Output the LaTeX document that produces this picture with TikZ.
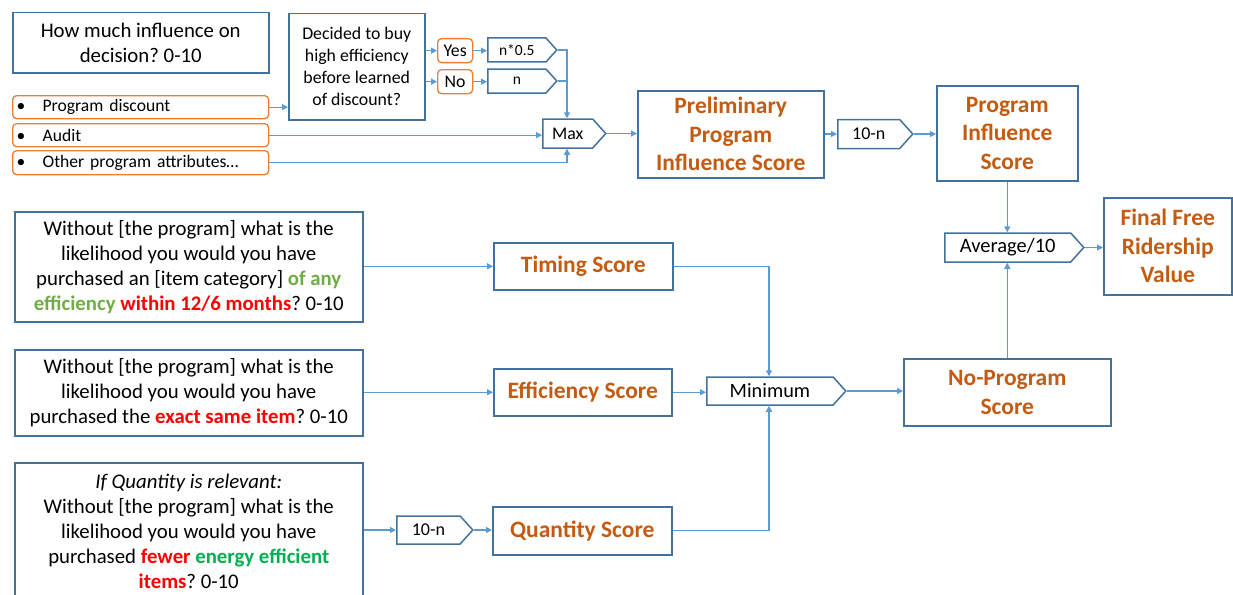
\documentclass[tikz,border=0pt]{standalone}
\usepackage{fontspec}
\setmainfont{Carlito}
\usetikzlibrary{arrows.meta,shapes.symbols}
\frenchspacing

\definecolor{boxblue}{HTML}{41719C}
\definecolor{lineblue}{HTML}{5B9BD5}
\definecolor{scoreorange}{HTML}{C55A11}
\definecolor{optorange}{HTML}{ED7D31}
\definecolor{softgreen}{HTML}{70AD47}
\definecolor{brightgreen}{HTML}{00B050}
\definecolor{hotred}{HTML}{FF0000}

\tikzset{
  box/.style={draw=boxblue, line width=1.5pt, fill=white, inner sep=0pt, align=center, anchor=north west},
  question/.style={box, font=\fontsize{20.8}{25}\selectfont},
  smallq/.style={box, font=\fontsize{17.8}{22}\selectfont},
  score/.style={box, text=scoreorange, font=\bfseries\fontsize{23.5}{28.5}\selectfont},
  option/.style={draw=optorange, line width=1.3pt, rounded corners=4pt, fill=white, inner sep=0pt, anchor=north west},
  answer/.style={option, font=\fontsize{17.8}{20}\selectfont, align=center},
  optline/.style={option, font=\fontsize{17.6}{20}\selectfont, text width=250pt, align=left},
  tag/.style={signal, signal to=east, signal pointer angle=96, draw=boxblue, line width=1.5pt, fill=white,
              inner sep=0pt, anchor=west},
  conn/.style={draw=lineblue, line width=1.2pt, -{Triangle[length=6pt,width=6pt]}},
  link/.style={draw=lineblue, line width=1.2pt},
}

\newcommand{\bul}[1]{\hspace*{1pt}\makebox[26pt][l]{•}#1}

\begin{document}
\begin{tikzpicture}[x=1pt, y=-1pt]
\useasboundingbox (0,0) rectangle (1233,594);

% --- program influence branch -------------------------------------------
\node[question, minimum width=256pt, minimum height=60pt] (q1) at (12,12)
  {How much influence on\\decision? 0-10};

\node[optline, minimum width=256pt, minimum height=23pt] (pd) at (12,95) {\bul{Program discount}};
\node[optline, minimum width=256pt, minimum height=23pt] (au) at (12,123) {\bul{Audit}};
\node[optline, minimum width=256pt, minimum height=24pt] (oth) at (12,150) {\bul{Other program attributes…}};

\node[smallq, minimum width=136pt, minimum height=106pt] (dec) at (288,13)
  {Decided to buy\\high efficiency\\before learned\\of discount?};

\node[answer, minimum width=35pt, minimum height=24pt] (yes) at (437,38) {Yes};
\node[answer, minimum width=35pt, minimum height=24pt] (no) at (437,69) {No};

\node[tag, minimum width=69pt, minimum height=24pt, font=\fontsize{15.5}{18}\selectfont] (half) at (487,50) {n*0.5};
\node[tag, minimum width=69pt, minimum height=24pt, font=\fontsize{15.5}{18}\selectfont] (nn) at (487,81) {n};

\node[tag, minimum width=63pt, minimum height=29pt, font=\fontsize{17.8}{20}\selectfont] (max) at (542,133.5) {Max};
\coordinate (jmax) at (567,0);

\node[score, minimum width=186pt, minimum height=87pt] (pre) at (637,90)
  {Preliminary\\Program\\Influence Score};

\node[tag, minimum width=75pt, minimum height=29pt, font=\fontsize{18}{20}\selectfont] (tenA) at (837,134) {10-n};

\node[score, minimum width=141pt, minimum height=95pt] (pis) at (936,85)
  {Program\\Influence\\Score};

\node[tag, minimum width=139pt, minimum height=29pt, font=\fontsize{20.5}{22}\selectfont] (avg) at (944,247.5) {Average/10};

\node[score, minimum width=128pt, minimum height=97pt] (ffr) at (1103,197)
  {Final Free\\Ridership\\Value};

% --- no-program branch ---------------------------------------------------
\node[question, minimum width=348pt, minimum height=110pt] (lq1) at (14,211)
  {Without [the program] what is the\\
   likelihood you would you have\\
   purchased an [item category] {\bfseries\color{softgreen}of any}\\
   {\bfseries\color{softgreen}efficiency} {\bfseries\color{hotred}within 12/6 months}? 0-10};

\node[question, minimum width=348pt, minimum height=86pt] (lq2) at (14,349)
  {Without [the program] what is the\\
   likelihood you would you have\\
   purchased the {\bfseries\color{hotred}exact same item}? 0-10};

\node[question, minimum width=348pt, minimum height=138pt] (lq3) at (14,462)
  {\itshape If Quantity is relevant:\\
   Without [the program] what is the\\
   likelihood you would you have\\
   purchased {\bfseries\color{hotred}fewer} {\bfseries\color{brightgreen}energy efficient}\\
   {\bfseries\color{hotred}items}? 0-10};

\node[score, minimum width=179pt, minimum height=47pt] (ts) at (493,242) {Timing Score};
\node[score, minimum width=178pt, minimum height=47pt] (es) at (493,368) {Efficiency Score};
\node[score, minimum width=179pt, minimum height=48pt] (qs) at (492,506) {Quantity Score};

\node[tag, minimum width=76pt, minimum height=28pt, font=\fontsize{18}{20}\selectfont] (tenB) at (396,530) {10-n};

\node[tag, minimum width=139pt, minimum height=28pt, font=\fontsize{20.3}{22}\selectfont] (mini) at (706,391) {Minimum};
\coordinate (jmin) at (769,0);

\node[score, minimum width=207pt, minimum height=67pt] (nps) at (903,358)
  {No-Program\\Score};

% --- connectors ----------------------------------------------------------
\draw[conn] (pd.east) -- (pd.east -| dec.west);
\draw[conn] (dec.east |- yes.west) -- (yes.west);
\draw[conn] (dec.east |- no.west) -- (no.west);
\draw[conn] (yes.east) -- (yes.east -| half.west);
\draw[conn] (no.east) -- (no.east -| nn.west);
\draw[conn] (half.east) -- (half.east -| jmax) -- (jmax |- max.north);
\draw[link] (nn.east) -- (nn.east -| jmax);
\draw[conn] (au.east) -- (au.east -| max.west);
\draw[conn] (oth.east) -- (oth.east -| jmax) -- (jmax |- max.south);
\draw[conn] (max.east) -- (max.east -| pre.west);
\draw[conn] (pre.east |- tenA.west) -- (tenA.west);
\draw[conn] (tenA.east) -- (tenA.east -| pis.west);
\draw[conn] (pis.south) -- (pis.south |- avg.north);
\draw[conn] (avg.east) -- (avg.east -| ffr.west);
\draw[conn] (nps.north) -- (nps.north |- avg.south);

\draw[conn] (lq1.east |- ts.west) -- (ts.west);
\draw[conn] (lq2.east |- es.west) -- (es.west);
\draw[conn] (lq3.east |- tenB.west) -- (tenB.west);
\draw[conn] (tenB.east) -- (tenB.east -| qs.west);
\draw[conn] (ts.east) -- (ts.east -| jmin) -- (jmin |- mini.north);
\draw[conn] (es.east) -- (es.east -| mini.west);
\draw[conn] (qs.east) -- (qs.east -| jmin) -- (jmin |- mini.south);
\draw[conn] (mini.east) -- (mini.east -| nps.west);
\end{tikzpicture}
\end{document}
